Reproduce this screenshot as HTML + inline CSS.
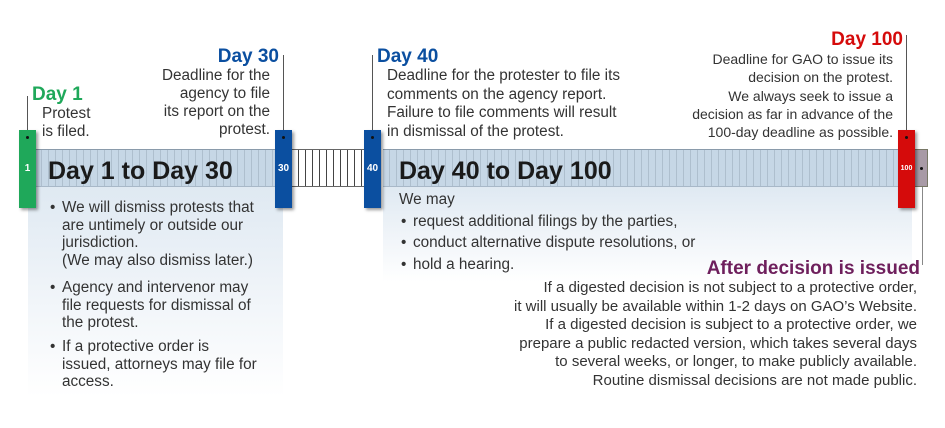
<!DOCTYPE html>
<html><head><meta charset="utf-8"><style>
*{margin:0;padding:0;box-sizing:border-box}
body{width:945px;height:428px;background:#fff;position:relative;overflow:hidden;font-family:"Liberation Sans",Arial,sans-serif;color:#333}
.a{position:absolute;white-space:nowrap}
.t{font-size:15.3px;line-height:18px}
.r{text-align:right}
.h{font-weight:bold;font-size:19px;line-height:22px}
.big{font-weight:bold;font-size:25px;line-height:28px;color:#1a1a1a}
.vl{position:absolute;width:1px;background:#555}
.mk{position:absolute;width:17px;height:78px;top:130px;box-shadow:2px 2px 3px rgba(0,0,0,.4);color:#fff;font-weight:bold;font-size:10px;text-align:center;line-height:78px}
.mk:before{content:"";position:absolute;left:7px;top:6px;width:3px;height:3px;border-radius:2px;background:#111}
.bar{position:absolute;top:149px;height:38px;background:repeating-linear-gradient(90deg,#c6d7e6 0,#c6d7e6 6px,#aebfce 6px,#aebfce 7px);border-top:1px solid #8a9bab;border-bottom:1px solid #a8b8c8}
.pn{position:absolute;top:187px;background:linear-gradient(#dfe9f2,#eef3f8 45%,#fff)}
.bl:before{content:"•";position:absolute;left:-12px}
</style></head><body>
<div class="pn" style="left:28px;width:255px;height:210px"></div>
<div class="pn" style="left:383px;width:529px;height:95px"></div>
<div class="bar" style="left:28px;width:255px"></div>
<div class="bar" style="left:383px;width:520px"></div>
<div class="a" style="left:292px;top:149px;width:72px;height:38px;border-top:1px solid #666;border-bottom:1px solid #666;background:repeating-linear-gradient(90deg,#fff 0,#fff 6px,#444 6px,#444 7px)"></div>
<div class="a" style="left:913px;top:149px;width:15px;height:38px;background:#a89aa6;border:1px solid #776"></div>
<div class="a" style="left:920px;top:167px;width:3px;height:3px;background:#111;border-radius:2px"></div>
<div class="vl" style="left:27px;top:96px;height:34px"></div>
<div class="vl" style="left:283px;top:55px;height:75px"></div>
<div class="vl" style="left:372px;top:55px;height:75px"></div>
<div class="vl" style="left:906px;top:35px;height:95px"></div>
<div class="vl" style="left:922px;top:187px;height:78px;background:#888"></div>
<div class="mk" style="left:19px;background:#1fa85a">1</div>
<div class="mk" style="left:275px;background:#0b4fa0">30</div>
<div class="mk" style="left:364px;background:#0b4fa0">40</div>
<div class="mk" style="left:898px;background:#d50b0b;font-size:7px">100</div>
<div class="a big" style="left:48px;top:157px">Day 1 to Day 30</div>
<div class="a big" style="left:399px;top:157px">Day 40 to Day 100</div>
<div class="a h" style="left:32px;top:84px;color:#1fa85a">Day 1</div>
<div class="a t" style="left:42px;top:105px">Protest<br>is filed.</div>
<div class="a h r" style="right:666px;top:46px;color:#0b4fa0">Day 30</div>
<div class="a t r" style="right:675px;top:67px">Deadline for the<br>agency to file<br>its report on the<br>protest.</div>
<div class="a h" style="left:377px;top:46px;color:#0b4fa0">Day 40</div>
<div class="a t" style="left:387px;top:67px;line-height:18.5px">Deadline for the protester to file its<br>comments on the agency report.<br>Failure to file comments will result<br>in dismissal of the protest.</div>
<div class="a h r" style="right:42px;top:29px;color:#d50b0b">Day 100</div>
<div class="a t r" style="right:52px;top:50px;line-height:18.3px;font-size:14px">Deadline for GAO to issue its<br>decision on the protest.<br>We always seek to issue a<br>decision as far in advance of the<br>100-day deadline as possible.</div>
<div class="a t bl" style="left:62px;top:199px;line-height:17.7px">We will dismiss protests that<br>are untimely or outside our<br>jurisdiction.<br>(We may also dismiss later.)</div>
<div class="a t bl" style="left:62px;top:279px;line-height:17.7px">Agency and intervenor may<br>file requests for dismissal of<br>the protest.</div>
<div class="a t bl" style="left:62px;top:338px;line-height:17.7px">If a protective order is<br>issued, attorneys may file for<br>access.</div>
<div class="a t" style="left:399px;top:191px">We may</div>
<div class="a t bl" style="left:413px;top:213px">request additional filings by the parties,</div>
<div class="a t bl" style="left:413px;top:234px">conduct alternative dispute resolutions, or</div>
<div class="a t bl" style="left:413px;top:256px">hold a hearing.</div>
<div class="a h r" style="right:25px;top:258px;color:#6e1f5c">After decision is issued</div>
<div class="a t r" style="right:28px;top:279px;font-size:15px;line-height:18.6px">If a digested decision is not subject to a protective order,<br>it will usually be available within 1-2 days on GAO’s Website.<br>If a digested decision is subject to a protective order, we<br>prepare a public redacted version, which takes several days<br>to several weeks, or longer, to make publicly available.<br>Routine dismissal decisions are not made public.</div>
</body></html>
